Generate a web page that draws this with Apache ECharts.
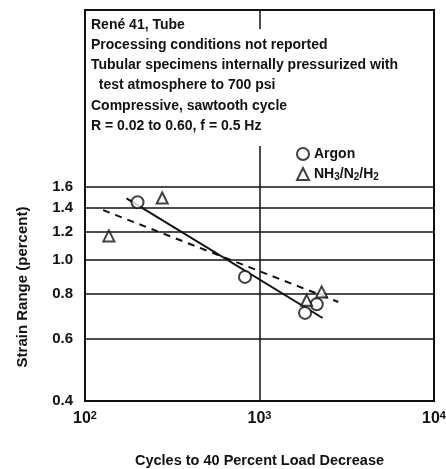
<!DOCTYPE html>
<html>
<head>
<meta charset="utf-8">
<script src="https://cdn.jsdelivr.net/npm/echarts@6/dist/echarts.min.js"></script>
<style>
html,body{margin:0;padding:0;background:#fff;}
#c{width:446px;height:469px;}
</style>
</head>
<body>
<div id="c"></div>
<script>
// ---- data ----
var argonPoints = [[200, 1.45], [826, 0.894], [1824, 0.708], [2128, 0.749]];
var nh3Points = [[137, 1.166], [277, 1.49], [1862, 0.768], [2270, 0.811]];
var argonFit = [[173, 1.486], [2300, 0.685]];
var nh3Fit = [[127, 1.378], [2830, 0.76]];
var yTickValues = [0.4, 0.6, 0.8, 1.0, 1.2, 1.4, 1.6];
var xTickValues = [100, 1000, 10000];
var infoLines = [
  'René 41, Tube',
  'Processing conditions not reported',
  'Tubular specimens internally pressurized with',
  '  test atmosphere to 700 psi',
  'Compressive, sawtooth cycle',
  'R = 0.02 to 0.60, f = 0.5 Hz'
];
var seriesNames = ['Argon', 'NH3/N2/H2'];
var xTitle = 'Cycles to 40 Percent Load Decrease';
var yTitle = 'Strain Range (percent)';

var FONT = '"Liberation Sans", Arial, sans-serif';

var chart = echarts.init(document.getElementById('c'));

var graphics = [
  { type: 'rect', z: 2, shape: { x: 87, y: 29, width: 342, height: 117 }, style: { fill: '#fff' } },
  {
    type: 'text', z: 60, x: 23, y: 287, rotation: Math.PI / 2,
    style: { text: yTitle, font: 'bold 15px ' + FONT, fill: '#111', textAlign: 'center', textVerticalAlign: 'middle' }
  }
];
infoLines.forEach(function (t, i) {
  graphics.push({
    type: 'text', z: 60, left: 91, top: 18 + i * 20.2,
    style: { text: t, font: 'bold 14px ' + FONT, fill: '#111' }
  });
});

var option = {
  backgroundColor: '#fff',
  animation: false,
  grid: {
    left: 85, right: 12, top: 10, bottom: 68, show: true,
    borderColor: '#111', borderWidth: 2, backgroundColor: 'transparent',
    outerBoundsMode: 'none', containLabel: false
  },
  xAxis: {
    type: 'log', logBase: 10, min: 100, max: 10000,
    name: xTitle, nameLocation: 'middle', nameGap: 52,
    nameTextStyle: { fontFamily: FONT, fontWeight: 'bold', fontSize: 14.5, color: '#111' },
    axisLine: { show: true, lineStyle: { color: '#111', width: 2 } },
    axisTick: { show: false },
    splitLine: { show: true, lineStyle: { color: '#111', width: 1.5 } },
    axisLabel: {
      margin: 9, color: '#111',
      formatter: function (v) {
        var e = Math.round(Math.log(v) / Math.LN10);
        return '{b|10}{s|' + e + '}';
      },
      rich: {
        b: { fontFamily: FONT, fontSize: 16, fontWeight: 'bold', color: '#111' },
        s: { fontFamily: FONT, fontSize: 11, fontWeight: 'bold', color: '#111', verticalAlign: 'top', padding: [0, 0, 6, 0] }
      }
    }
  },
  yAxis: {
    type: 'log', logBase: 10, min: 0.4, max: 5.04,
    axisLine: { show: true, lineStyle: { color: '#111', width: 2 } },
    axisTick: { show: false },
    axisLabel: { show: false },
    splitLine: { show: false }
  },
  legend: {
    orient: 'vertical', left: 291, top: 142, itemGap: 6, z: 10,
    itemWidth: 12, itemHeight: 12,
    data: seriesNames,
    textStyle: {
      fontFamily: FONT, fontSize: 14, fontWeight: 'bold', color: '#111',
      rich: {
        n: { fontFamily: FONT, fontSize: 14, fontWeight: 'bold', color: '#111' },
        s: { fontFamily: FONT, fontSize: 10, fontWeight: 'bold', color: '#111', verticalAlign: 'bottom', padding: [6, 0, 0, 0] }
      }
    },
    formatter: function (name) {
      if (name === 'NH3/N2/H2') return '{n|NH}{s|3}{n|/N}{s|2}{n|/H}{s|2}';
      return name;
    }
  },
  graphic: graphics,
  series: [
    {
      name: 'gridlines', type: 'line', data: [], silent: true,
      markLine: {
        silent: true, symbol: 'none', animation: false,
        lineStyle: { color: '#111', width: 1.5, type: 'solid' },
        label: {
          show: true, position: 'start', distance: 12,
          fontFamily: FONT, fontSize: 15, fontWeight: 'bold', color: '#111',
          formatter: function (p) { return p.value.toFixed(1); }
        },
        data: yTickValues.map(function (v) { return { yAxis: v }; })
      }
    },
    {
      name: 'argonFit', type: 'line', data: argonFit, symbol: 'none', z: 5,
      lineStyle: { color: '#111', width: 2 }
    },
    {
      name: 'nh3Fit', type: 'line', data: nh3Fit, symbol: 'none', z: 5,
      lineStyle: { color: '#111', width: 2, type: [7, 6] }
    },
    {
      name: seriesNames[0], type: 'scatter', data: argonPoints,
      symbol: 'emptyCircle', symbolSize: 12, z: 10,
      itemStyle: { color: '#111', borderColor: '#111', borderWidth: 1.6 }
    },
    {
      name: seriesNames[1], type: 'scatter', data: nh3Points,
      symbol: 'emptyTriangle', symbolSize: 11, z: 10,
      itemStyle: { color: '#111', borderColor: '#111', borderWidth: 1.6 }
    }
  ]
};
chart.setOption(option);
</script>
</body>
</html>
